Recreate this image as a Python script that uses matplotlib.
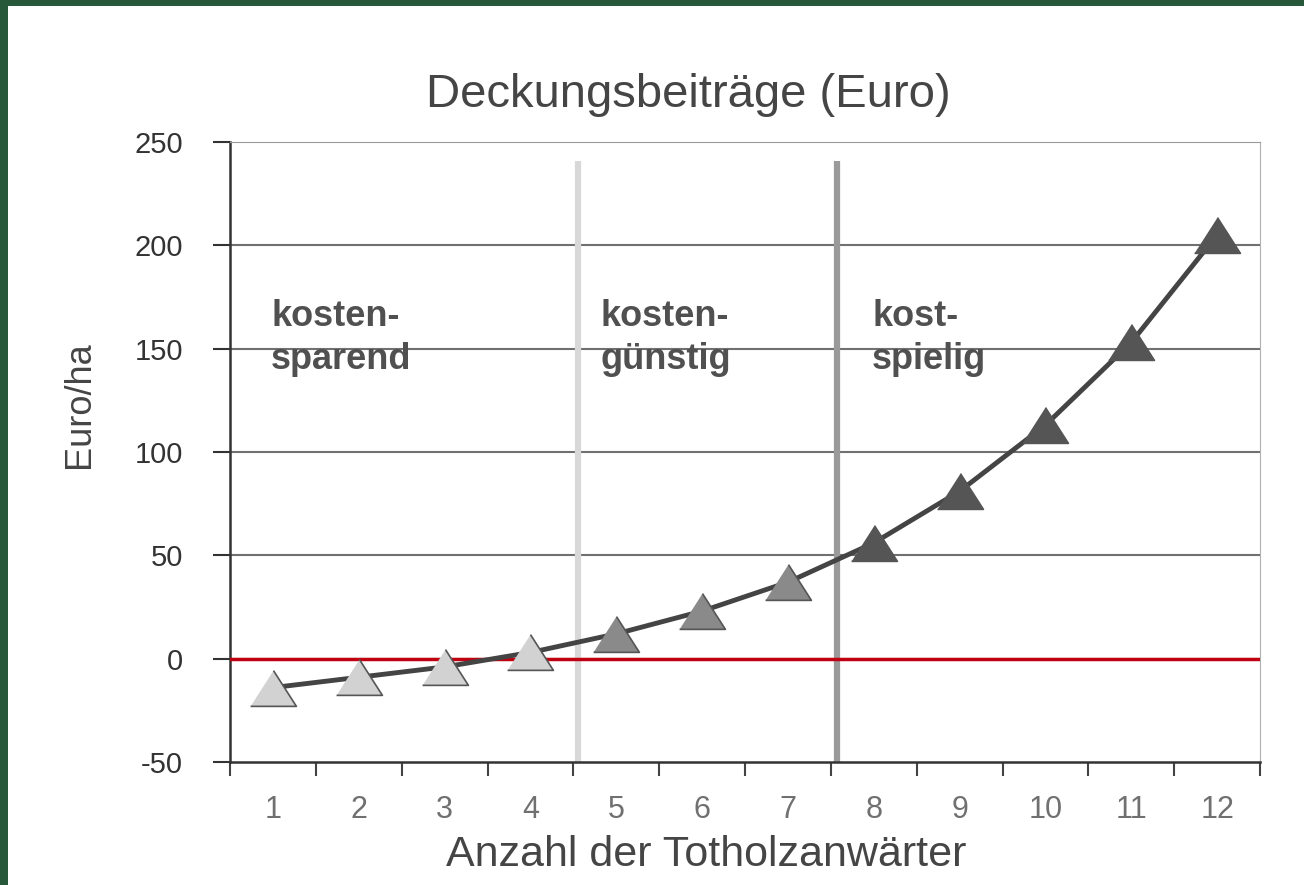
import numpy as np
import matplotlib.pyplot as plt
from matplotlib.patches import Rectangle

# Daten
anzahl = np.arange(1, 13)
euro_ha = [-14, -9, -4, 3, 12, 23, 37, 56, 81, 113, 153, 205]
gruppe = [0, 0, 0, 0, 1, 1, 1, 2, 2, 2, 2, 2]
farben = ['#d2d2d2', '#8a8a8a', '#555555']
grenzen = [4.56, 7.57]
grenz_farben = ['#d8d8d8', '#9a9a9a']
bereiche = ['kosten-\nsparend', 'kosten-\ngünstig', 'kost-\nspielig']
bereich_x = [0.98, 4.82, 7.98]

plt.rcParams['font.family'] = ['Liberation Sans', 'DejaVu Sans']
plt.rcParams['axes.unicode_minus'] = False

W, H = 1304, 885
fig = plt.figure(figsize=(W / 100, H / 100), dpi=100, facecolor='#27583a')
# weisser Hintergrund, gruener Rand links und oben
fig.patches.append(Rectangle((8 / W, 0), 1, 1 - 6 / H, transform=fig.transFigure,
                             facecolor='white', edgecolor='none', zorder=-10))

ax = fig.add_axes([230 / W, (H - 762) / H, 1030 / W, 620 / H])
ax.set_facecolor('white')
ax.set_xlim(0.5, 12.5)
ax.set_ylim(-50, 250)

# horizontale Gitterlinien
for y in [0, 50, 100, 150, 200]:
    ax.axhline(y, color='#707070', lw=1.5, zorder=1)

# Trennlinien zwischen den Bereichen
for xg, c in zip(grenzen, grenz_farben):
    ax.plot([xg, xg], [-50, 241], color=c, lw=4.5, zorder=2, solid_capstyle='butt')

# Nulllinie
ax.axhline(0, color='#c00010', lw=2.5, zorder=3)

# Kurve und Dreiecke
ax.plot(anzahl, euro_ha, color='#444444', lw=3.5, zorder=4)
tri = [(-1, -0.78), (1, -0.78), (0, 0.78)]
for xi, yi, g in zip(anzahl, euro_ha, gruppe):
    ax.plot(xi, yi, marker=tri, ms=33, color=farben[g], mec='#555555', mew=1.2, zorder=5)

for t, xt in zip(bereiche, bereich_x):
    ax.text(xt, 174, t, fontsize=26, fontweight='bold', color='#505050',
            va='top', ha='left', linespacing=1.3, zorder=6)

# Achsen
ax.spines['left'].set_color('#333333')
ax.spines['bottom'].set_color('#333333')
ax.spines['left'].set_linewidth(1.8)
ax.spines['bottom'].set_linewidth(1.8)
ax.spines['top'].set_color('#9a9a9a')
ax.spines['right'].set_color('#b0b0b0')

ax.set_yticks([-50, 0, 50, 100, 150, 200, 250])
ax.tick_params(axis='y', direction='out', length=12, width=1.5, color='#333333',
               labelsize=21, labelcolor='#333333', pad=22)

ax.set_xticks(np.arange(0.5, 13, 1))
ax.set_xticklabels([])
ax.set_xticks(anzahl, minor=True)
ax.set_xticklabels([str(i) for i in anzahl], minor=True)
ax.tick_params(axis='x', which='major', direction='out', length=10, width=1.5, color='#444444')
ax.tick_params(axis='x', which='minor', length=0, labelsize=22, labelcolor='#707070', pad=24)

# Beschriftungen
fig.text(688 / W, 1 - 95 / H, 'Deckungsbeiträge (Euro)', fontsize=34, color='#454545',
         ha='center', va='center')
fig.text(706 / W, 1 - 855 / H, 'Anzahl der Totholzanwärter', fontsize=31, color='#454545',
         ha='center', va='center')
fig.text(80 / W, 1 - 405 / H, 'Euro/ha', fontsize=26, color='#454545',
         ha='center', va='center', rotation=90)

fig.savefig('out.png', dpi=100, facecolor=fig.get_facecolor())
